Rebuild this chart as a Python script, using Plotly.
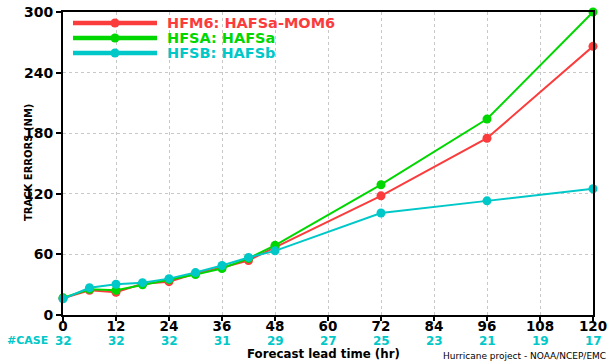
import plotly.graph_objects as go

lead = [0, 6, 12, 18, 24, 30, 36, 42, 48, 72, 96, 120]
hfm6 = [16.5, 24.5, 22.5, 31, 33, 41, 47, 54, 67, 118, 175, 266]
hfsa = [17, 25.5, 24.5, 30, 35, 40, 46, 56, 69, 129, 194, 300]
hfsb = [16, 27, 30.5, 32, 36, 42, 49, 57, 63.5, 101, 113, 125]
series = [hfm6, hfsa, hfsb]
names = ["HFM6: HAFSa-MOM6", "HFSA: HAFSa", "HFSB: HAFSb"]
colors = ["rgb(250,60,60)", "rgb(0,215,0)", "rgb(0,200,200)"]

case_hours = [0, 12, 24, 36, 48, 60, 72, 84, 96, 108, 120]
case_counts = [32, 32, 32, 31, 29, 27, 25, 23, 21, 19, 17]
x_ticks = [0, 12, 24, 36, 48, 60, 72, 84, 96, 108, 120]
y_ticks = [0, 60, 120, 180, 240, 300]

W, H = 615, 362
ML, MR, MT, MB = 63, 22, 12, 47
PW, PH = W - ML - MR, H - MT - MB

def px(x):
    return (x - ML) / PW

def py(y):
    return (H - MB - y) / PH

FONT = "DejaVu Sans"

fig = go.Figure()
for vals, name, col in zip(series, names, colors):
    fig.add_trace(go.Scatter(
        x=lead, y=vals, mode="lines+markers", name=name,
        line=dict(color=col, width=2),
        marker=dict(color=col, size=9),
        cliponaxis=False, showlegend=False,
    ))

shapes = []
annotations = []
for i, (name, col) in enumerate(zip(names, colors)):
    yy = 23 + 15 * i
    shapes.append(dict(type="line", xref="paper", yref="paper",
                       x0=px(73), x1=px(157), y0=py(yy), y1=py(yy),
                       line=dict(color=col, width=4.5)))
    shapes.append(dict(type="circle", xref="paper", yref="paper",
                       xsizemode="pixel", ysizemode="pixel",
                       xanchor=px(115), yanchor=py(yy),
                       x0=-4.5, x1=4.5, y0=-4.5, y1=4.5,
                       fillcolor=col, line=dict(color=col, width=0)))
    annotations.append(dict(xref="paper", yref="paper", x=px(165), y=py(yy),
                            xanchor="left", yanchor="middle", showarrow=False,
                            text=name, font=dict(family=FONT, size=14.5, color=col, weight="bold")))

for h, c in zip(case_hours, case_counts):
    annotations.append(dict(xref="x", yref="paper", x=h, y=py(340.5),
                            xanchor="center", yanchor="middle", showarrow=False,
                            text=str(c), font=dict(family=FONT, size=12, color="rgb(0,200,200)", weight="bold")))
annotations.append(dict(xref="paper", yref="paper", x=px(5), y=py(340.5),
                        xanchor="left", yanchor="middle", showarrow=False,
                        text="#CASE", font=dict(family=FONT, size=11, color="rgb(0,200,200)", weight="bold")))
annotations.append(dict(xref="paper", yref="paper", x=px(323), y=py(354),
                        xanchor="center", yanchor="middle", showarrow=False,
                        text="Forecast lead time (hr)", font=dict(family=FONT, size=11.8, color="black", weight="bold")))
annotations.append(dict(xref="paper", yref="paper", x=px(441), y=py(356),
                        xanchor="left", yanchor="middle", showarrow=False,
                        text="Hurricane project - NOAA/NCEP/EMC", font=dict(family=FONT, size=9, color="black")))
annotations.append(dict(xref="paper", yref="paper", x=px(28), y=py(163),
                        xanchor="center", yanchor="middle", showarrow=False, textangle=-90,
                        text="TRACK ERRORS (NM)", font=dict(family=FONT, size=10, color="black", weight="bold")))

fig.update_layout(
    width=W, height=H, margin=dict(l=ML, r=MR, t=MT, b=MB),
    paper_bgcolor="white", plot_bgcolor="white",
    shapes=shapes, annotations=annotations,
    xaxis=dict(range=[0, 120], tickvals=x_ticks, ticktext=[str(t) for t in x_ticks],
               showgrid=True, gridcolor="rgb(200,200,200)", griddash="dot", gridwidth=1,
               showline=True, linecolor="black", linewidth=2, mirror=True,
               ticks="outside", ticklen=4, tickwidth=2, tickcolor="black",
               ticklabelstandoff=-6,
               tickfont=dict(family=FONT, size=13.5, color="black", weight="bold"),
               zeroline=False, automargin=False),
    yaxis=dict(range=[0, 300], tickvals=y_ticks, ticktext=[str(t) for t in y_ticks],
               showgrid=True, gridcolor="rgb(200,200,200)", griddash="dot", gridwidth=1,
               showline=True, linecolor="black", linewidth=2, mirror=True,
               ticks="outside", ticklen=5, tickwidth=2, tickcolor="black",
               tickfont=dict(family=FONT, size=14, color="black", weight="bold"),
               zeroline=False, automargin=False),
)

fig.write_html("out.html")
